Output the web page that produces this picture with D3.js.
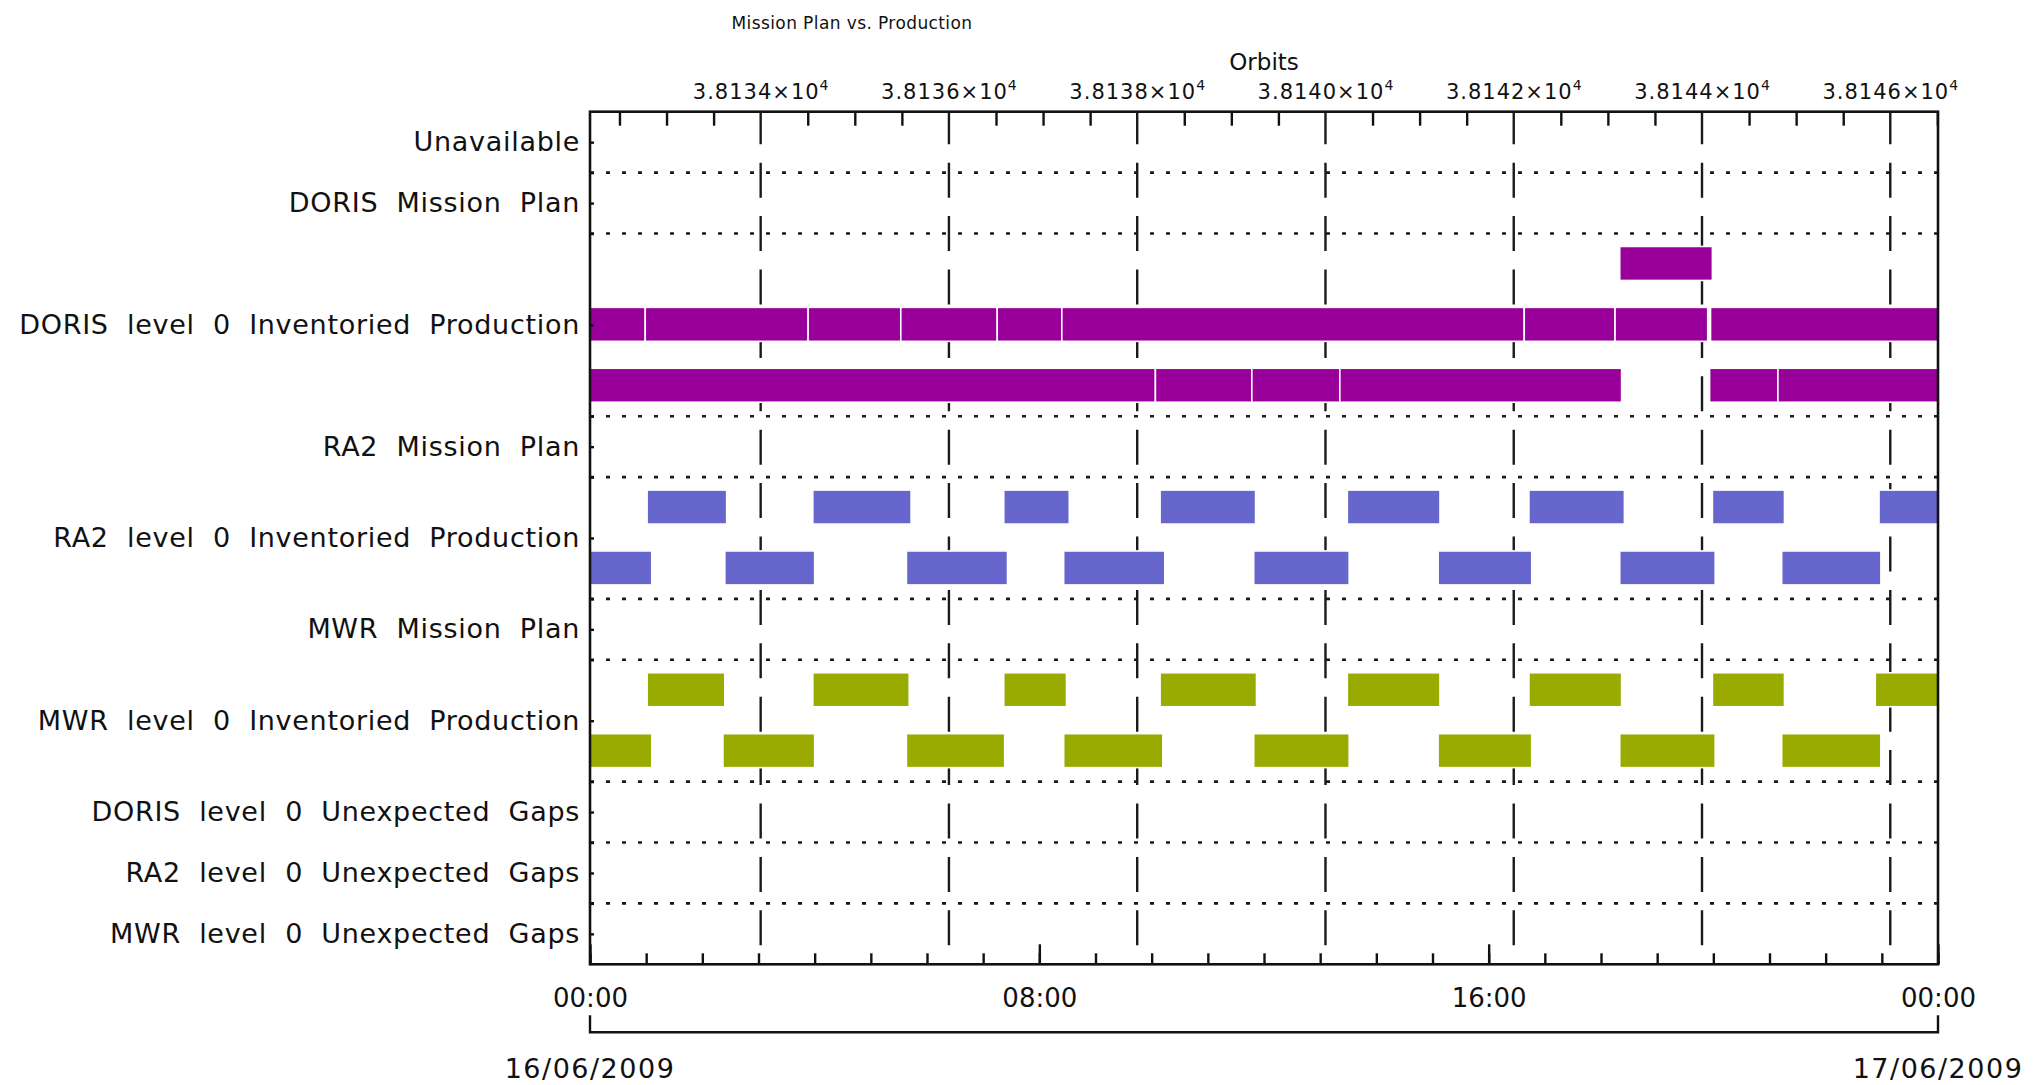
<!DOCTYPE html>
<html>
<head>
<meta charset="utf-8">
<script src="https://cdn.jsdelivr.net/npm/d3@7"></script>
<style>
  body { margin: 0; background: #fff; }
  text { font-family: "DejaVu Sans", sans-serif; fill: #111; }
  .axis path.domain { display: none; }
  .axis line { stroke: #111; stroke-width: 2.4; }
</style>
</head>
<body>
<script>
// rows of the chart (top to bottom) and how many lanes each one takes
var rowNames = ["Unavailable", "DORIS Mission Plan", "DORIS level 0 Inventoried Production",
  "RA2 Mission Plan", "RA2 level 0 Inventoried Production", "MWR Mission Plan",
  "MWR level 0 Inventoried Production", "DORIS level 0 Unexpected Gaps",
  "RA2 level 0 Unexpected Gaps", "MWR level 0 Unexpected Gaps"];
var rowLanes = [1, 1, 3, 1, 2, 1, 2, 1, 1, 1];

// orbit numbers at the left / right edge of the day, and labelled orbits
var orbitRange = [38132.187, 38146.507];
var orbitMajor = [38134, 38136, 38138, 38140, 38142, 38144, 38146];
var timeLabels = ["00:00", "08:00", "16:00", "24:00"];
var dateLabels = ["16/06/2009", "17/06/2009"];

// production segments, times of 16/06/2009 (HH:MM)
var dorisInvTop = [["18:20", "19:59"]];
var dorisInvMid = [["00:00", "00:59"], ["00:59", "03:53"], ["03:53", "05:32"], ["05:32", "07:15"],
  ["07:15", "08:24"], ["08:24", "16:38"], ["16:38", "18:15"], ["18:15", "19:54"], ["19:57", "24:00"]];
var dorisInvLow = [["00:00", "10:04"], ["10:04", "11:47"], ["11:47", "13:21"], ["13:21", "18:22"],
  ["19:56", "21:09"], ["21:09", "24:00"]];
var ra2InvTop = [["01:01", "02:26"], ["03:58", "05:43"], ["07:22", "08:32"], ["10:09", "11:51"],
  ["13:29", "15:08"], ["16:43", "18:25"], ["19:59", "21:16"], ["22:57", "24:00"]];
var ra2InvLow = [["00:00", "01:06"], ["02:24", "04:00"], ["05:38", "07:26"], ["08:26", "10:14"],
  ["11:49", "13:31"], ["15:06", "16:46"], ["18:20", "20:02"], ["21:13", "22:59"]];
var mwrInvTop = [["01:01", "02:24"], ["03:58", "05:41"], ["07:22", "08:29"], ["10:09", "11:52"],
  ["13:29", "15:08"], ["16:43", "18:22"], ["19:59", "21:16"], ["22:53", "24:00"]];
var mwrInvLow = [["00:00", "01:06"], ["02:22", "04:00"], ["05:38", "07:23"], ["08:26", "10:12"],
  ["11:49", "13:31"], ["15:06", "16:46"], ["18:20", "20:02"], ["21:13", "22:59"]];

var dorisColor = "#990099", ra2Color = "#6666cc", mwrColor = "#99aa00";

var tracks = [
  {lane: 2, color: dorisColor, data: dorisInvTop},
  {lane: 3, color: dorisColor, data: dorisInvMid},
  {lane: 4, color: dorisColor, data: dorisInvLow},
  {lane: 6, color: ra2Color, data: ra2InvTop},
  {lane: 7, color: ra2Color, data: ra2InvLow},
  {lane: 9, color: mwrColor, data: mwrInvTop},
  {lane: 10, color: mwrColor, data: mwrInvLow}
];

var margin = {top: 111.7, left: 590},
    width = 1348,
    height = 852.6;

var day0 = new Date(2009, 5, 16);
function t(s) {
  var p = s.split(":");
  return d3.timeMinute.offset(day0, +p[0] * 60 + +p[1]);
}

var nLanes = d3.sum(rowLanes);
var rowStart = [], acc = 0;
rowLanes.forEach(function(n) { rowStart.push(acc); acc += n; });
var centers = rowStart.map(function(s, i) { return s + rowLanes[i] / 2; });
var boundaries = rowStart.slice(1);

var x = d3.scaleTime().domain([t("00:00"), t("24:00")]).range([0, width]);
var xOrbit = d3.scaleLinear().domain(orbitRange).range([0, width]);
var y = d3.scaleLinear().domain([0, nLanes]).range([0, height]);

var orbitMinor = d3.range(Math.ceil(orbitRange[0] * 2) / 2, orbitRange[1], 0.5)
  .filter(function(o) { return o % 2 != 0; });

var svg = d3.select("body").append("svg")
  .attr("width", 2034)
  .attr("height", 1085);

var g = svg.append("g")
  .attr("transform", "translate(" + margin.left + "," + margin.top + ")");

// vertical dashed lines at labelled orbits
g.selectAll(".vgrid")
  .data(orbitMajor)
  .enter().append("line")
  .attr("x1", xOrbit).attr("x2", xOrbit)
  .attr("y1", 0).attr("y2", height)
  .attr("stroke", "#1a1a1a")
  .attr("stroke-width", 2.4)
  .attr("stroke-dasharray", "35,18.4")
  .attr("stroke-dashoffset", 2.4);

// dotted row separators
g.selectAll(".hgrid")
  .data(boundaries)
  .enter().append("line")
  .attr("x1", 0).attr("x2", width)
  .attr("y1", y).attr("y2", y)
  .attr("stroke", "#1a1a1a")
  .attr("stroke-width", 2.6)
  .attr("stroke-dasharray", "4,12");

// bars
var barH = 34;
tracks.forEach(function(tr) {
  g.append("g").selectAll("rect")
    .data(tr.data)
    .enter().append("rect")
    .attr("x", function(d) { return x(t(d[0])); })
    .attr("width", function(d) { return x(t(d[1])) - x(t(d[0])); })
    .attr("y", y(tr.lane + 0.5) - barH / 2 - 0.5)
    .attr("height", barH)
    .attr("fill", tr.color)
    .attr("stroke", "#fff")
    .attr("stroke-width", 1.6);
});

// top orbit axis
g.append("g").attr("class", "axis")
  .call(d3.axisTop(xOrbit).tickValues(orbitMinor).tickSize(-14).tickFormat(""));

g.append("g").attr("class", "axis")
  .call(d3.axisTop(xOrbit).tickValues(orbitMajor).tickSize(0).tickPadding(13).tickFormat(""))
  .selectAll(".tick text")
  .attr("font-size", 21)
  .attr("letter-spacing", 1)
  .each(function(d) {
    var txt = d3.select(this);
    txt.append("tspan").text((d / 1e4).toFixed(4) + "×10");
    txt.append("tspan").attr("dy", -9).attr("font-size", 14).text("4");
  });

svg.append("text")
  .attr("x", margin.left + width / 2)
  .attr("y", 70)
  .attr("text-anchor", "middle")
  .attr("font-size", 23)
  .text("Orbits");

svg.append("text")
  .attr("x", 852)
  .attr("y", 29)
  .attr("text-anchor", "middle")
  .attr("font-size", 17)
  .attr("letter-spacing", 0.4)
  .text("Mission Plan vs. Production");

// bottom time axis
g.append("g").attr("class", "axis")
  .attr("transform", "translate(0," + height + ")")
  .call(d3.axisBottom(x).ticks(d3.timeHour.every(1)).tickSize(-11).tickFormat(""));

g.append("g").attr("class", "axis")
  .attr("transform", "translate(0," + height + ")")
  .call(d3.axisBottom(x).tickValues(timeLabels.map(t)).tickSize(-20).tickPadding(24)
    .tickFormat(d3.timeFormat("%H:%M")))
  .selectAll("text")
  .attr("font-size", 26);

// left row axis
g.append("g").attr("class", "axis")
  .call(d3.axisLeft(y).tickValues(boundaries).tickSize(-4).tickFormat(""));

g.append("g").attr("class", "axis")
  .call(d3.axisLeft(y).tickValues(centers).tickSize(-4).tickPadding(10)
    .tickFormat(function(d, i) { return rowNames[i]; }))
  .selectAll("text")
  .attr("font-size", 27)
  .attr("letter-spacing", 0.7)
  .attr("word-spacing", 9);

// frame
g.append("rect")
  .attr("width", width)
  .attr("height", height)
  .attr("fill", "none")
  .attr("stroke", "#111")
  .attr("stroke-width", 2.6);

// date bracket under the time axis
var by = height + 68;
g.append("path")
  .attr("d", "M0," + (by - 17) + "V" + by + "H" + width + "V" + (by - 17))
  .attr("fill", "none")
  .attr("stroke", "#111")
  .attr("stroke-width", 2.4);

g.selectAll(".date")
  .data(dateLabels)
  .enter().append("text")
  .attr("x", function(d, i) { return i * width; })
  .attr("y", by + 46)
  .attr("text-anchor", "middle")
  .attr("font-size", 27)
  .attr("letter-spacing", 1.5)
  .text(function(d) { return d; });
</script>
</body>
</html>
